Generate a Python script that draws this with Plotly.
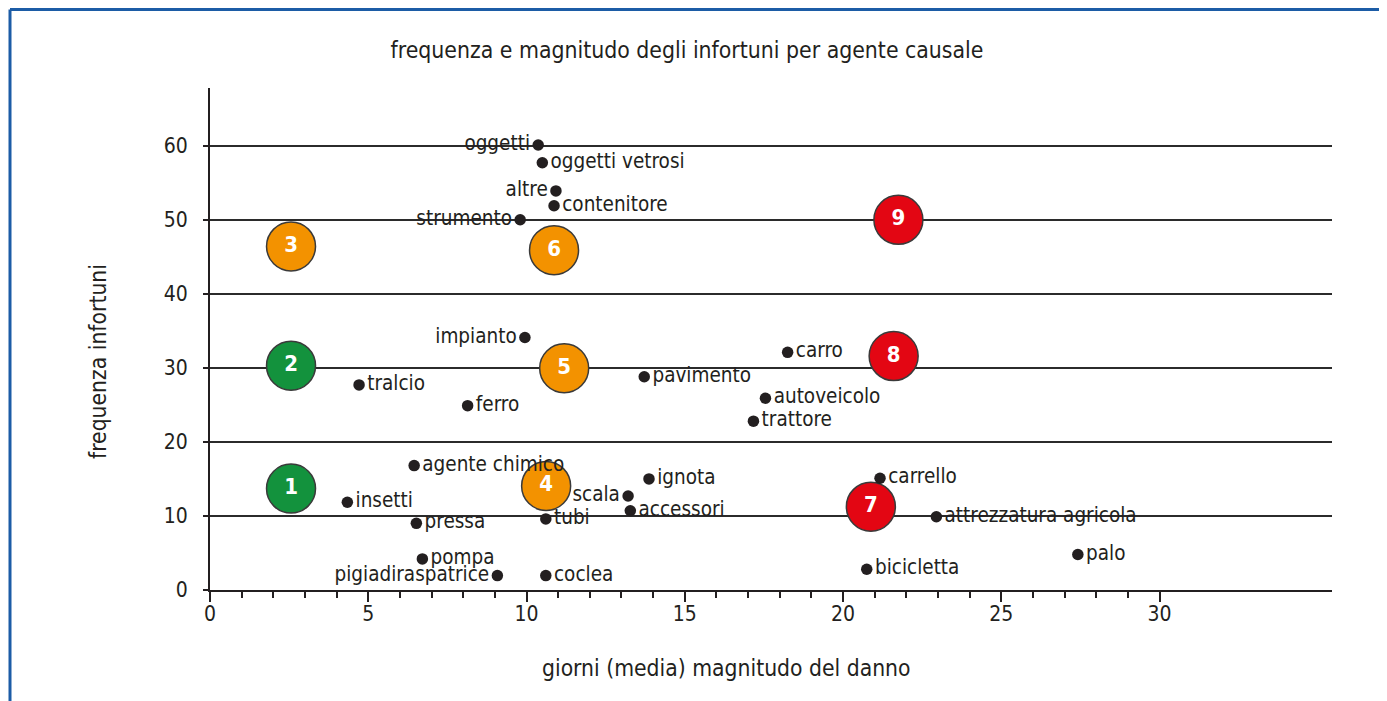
import plotly.graph_objects as go

# ---- data ----
right_names = ["oggetti vetrosi", "contenitore", "tralcio", "ferro", "agente chimico",
               "insetti", "pressa", "pompa", "tubi", "coclea", "ignota", "accessori",
               "pavimento", "carro", "autoveicolo", "trattore", "carrello",
               "attrezzatura agricola", "palo", "bicicletta"]
right_x = [10.5, 10.87, 4.71, 8.14, 6.45, 4.34, 6.52, 6.71, 10.61, 10.61, 13.87, 13.28,
           13.72, 18.25, 17.55, 17.17, 21.17, 22.95, 27.42, 20.75]
right_y = [57.7, 51.9, 27.7, 24.9, 16.8, 11.85, 9.0, 4.2, 9.6, 1.95, 15.0, 10.7,
           28.8, 32.1, 25.9, 22.8, 15.1, 9.9, 4.8, 2.8]

left_names = ["oggetti", "altre", "strumento", "impianto", "scala", "pigiadiraspatrice"]
left_x = [10.37, 10.93, 9.8, 9.95, 13.21, 9.08]
left_y = [60.1, 53.9, 50.0, 34.1, 12.7, 1.95]

group_labels = ["1", "2", "3", "4", "5", "6", "7", "8", "9"]
group_x = [2.56, 2.56, 2.56, 10.62, 11.19, 10.87, 20.88, 21.6, 21.75]
group_y = [13.7, 30.3, 46.4, 14.05, 29.95, 45.9, 11.25, 31.6, 50.0]
group_class = ["low", "low", "mid", "mid", "mid", "mid", "high", "high", "high"]

x_ticks = [0, 5, 10, 15, 20, 25, 30]
x_minor = [v for v in range(1, 30) if v % 5 != 0]
y_ticks = [0, 10, 20, 30, 40, 50, 60]

title_text = "frequenza e magnitudo degli infortuni per agente causale"
x_title = "giorni (media) magnitudo del danno"
y_title = "frequenza infortuni"

# ---- style ----
FONT = "DejaVu Sans Condensed, Liberation Sans Narrow, sans-serif"
INK = "#231f20"
class_colors = {"low": "#13923d", "mid": "#f39200", "high": "#e30613"}

PAGE_OFF = 8                      # default body margin of the html page
W, H = 1387 - PAGE_OFF, 701 - PAGE_OFF
L, T = 210 - PAGE_OFF, 88 - PAGE_OFF
R = W - (1332 - PAGE_OFF)
B = H - (590 - PAGE_OFF)
X_MAX = 35.45
Y_MAX = 67.8
plot_w = W - L - R
plot_h = H - T - B

def px_to_paper_x(px):
    return (px - PAGE_OFF - L) / plot_w

def px_to_paper_y(py):
    return (H - B - (py - PAGE_OFF)) / plot_h

fig = go.Figure()

fig.add_trace(go.Scatter(
    x=group_x, y=group_y, mode="markers+text", text=group_labels,
    textposition="middle center",
    textfont=dict(family=FONT, size=22, color="white", weight="bold"),
    marker=dict(size=49, color=[class_colors[c] for c in group_class],
                line=dict(color="#3a3a3a", width=1.5)),
    hoverinfo="skip", showlegend=False, cliponaxis=False))

fig.add_trace(go.Scatter(
    x=right_x, y=right_y, mode="markers+text", text=right_names,
    textposition="middle right",
    textfont=dict(family=FONT, size=20.5, color=INK),
    marker=dict(size=11.5, color=INK),
    showlegend=False, cliponaxis=False))

fig.add_trace(go.Scatter(
    x=left_x, y=left_y, mode="markers+text", text=left_names,
    textposition="middle left",
    textfont=dict(family=FONT, size=20.5, color=INK),
    marker=dict(size=11.5, color=INK),
    showlegend=False, cliponaxis=False))

fig.update_layout(
    width=W, height=H,
    margin=dict(l=L, r=R, t=T, b=B),
    paper_bgcolor="white", plot_bgcolor="white",
    title=dict(text=title_text, x=(687 - PAGE_OFF) / W, xref="container", xanchor="center",
               y=1 - (50 - PAGE_OFF) / H, yref="container", yanchor="middle",
               font=dict(family=FONT, size=22.8, color=INK)),
    font=dict(family=FONT, color=INK),
    xaxis=dict(range=[0, X_MAX], tickvals=x_ticks, ticks="outside", ticklen=10,
               tickwidth=1.5, tickcolor=INK, showline=True, linecolor=INK, linewidth=2,
               showgrid=False, zeroline=False, ticklabelstandoff=-6,
               tickfont=dict(family=FONT, size=21, color=INK),
               minor=dict(tickvals=x_minor, ticks="outside", ticklen=6,
                          tickwidth=1.5, tickcolor=INK, showgrid=False)),
    yaxis=dict(range=[0, Y_MAX], tickvals=y_ticks, ticks="outside", ticklen=5,
               tickwidth=1.5, tickcolor=INK, showline=True, linecolor=INK, linewidth=2,
               showgrid=True, gridcolor="#2b2b2b", gridwidth=2, zeroline=False,
               ticklabelstandoff=11,
               tickfont=dict(family=FONT, size=21, color=INK)),
    annotations=[
        dict(text=x_title, xref="paper", yref="paper",
             x=px_to_paper_x(726), y=px_to_paper_y(668),
             xanchor="center", yanchor="middle", showarrow=False,
             font=dict(family=FONT, size=22.7, color=INK)),
        dict(text=y_title, xref="paper", yref="paper",
             x=px_to_paper_x(98), y=px_to_paper_y(362), textangle=-90,
             xanchor="center", yanchor="middle", showarrow=False,
             font=dict(family=FONT, size=22.7, color=INK)),
    ],
    shapes=[
        dict(type="line", xref="paper", yref="paper",
             x0=px_to_paper_x(10), x1=px_to_paper_x(1400),
             y0=px_to_paper_y(PAGE_OFF + 1.5), y1=px_to_paper_y(PAGE_OFF + 1.5),
             line=dict(color="#1c5ca6", width=3)),
        dict(type="line", xref="paper", yref="paper",
             x0=px_to_paper_x(10), x1=px_to_paper_x(10),
             y0=px_to_paper_y(PAGE_OFF + 1.5), y1=px_to_paper_y(720),
             line=dict(color="#1c5ca6", width=3)),
    ],
)

fig.write_html("out.html")
